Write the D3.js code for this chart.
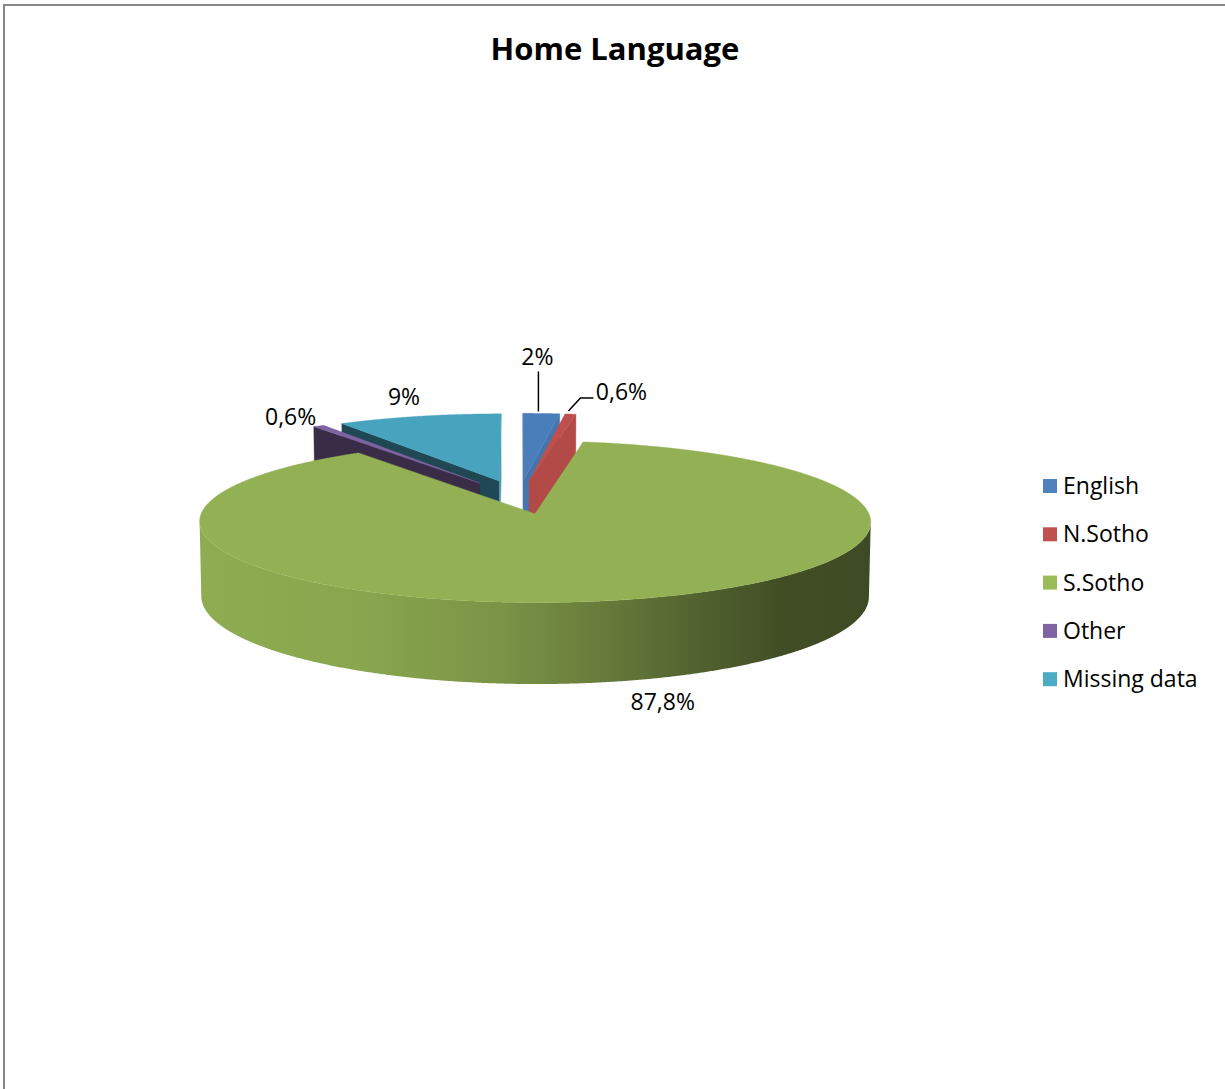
<!DOCTYPE html>
<html>
<head>
<meta charset="utf-8">
<script src="https://cdn.jsdelivr.net/npm/d3@7"></script>
<style>
  body { margin: 0; background: #fff; }
  svg { display: block; }
  text { font-family: "Open Sans", "Noto Sans", sans-serif; }
</style>
</head>
<body>
<script>
// ---- data ----
const categories = ["English", "N.Sotho", "S.Sotho", "Other", "Missing data"];
const shares = [2, 0.6, 87.8, 0.6, 9];            // percent of respondents
const legendColors = ["#4F81BD", "#C0504D", "#9BBB59", "#8064A2", "#4BACC6"];
const topColors = ["#4A7EBB", "#BF4F4C", "#93B154", "#7F63A1", "#47A3BE"];

// ---- layout / style ----
const W = 1225, H = 1089;
const titleText = "Home Language";
// label offsets (px) from the projected rim point at each slice's mid angle
const labelOffsets = [[-4, -57], [51, -23], [46, 20], [-28, -10], [-15, -20]];
// leader polylines, as offsets from that same rim point
const leaders = {
  0: [[-3, -2], [-3, -42]],
  1: [[-2, -3], [10, -16], [23, -16]]
};
// wall shading along screen x: [position, brightness multiplier]
const wallShade = [[0, 0.97], [0.25, 0.93], [0.45, 0.83], [0.6, 0.7], [0.75, 0.55], [0.87, 0.44], [1, 0.42]];

const fmtPct = v => String(v).replace(".", ",") + "%";

const svg = d3.select("body").append("svg")
  .attr("width", W).attr("height", H);

svg.append("rect").attr("width", W).attr("height", H).attr("fill", "#fff");

// chart frame (right and bottom sides fall outside the view)
svg.append("rect")
  .attr("x", 4).attr("y", 5).attr("width", 1400).attr("height", 1400)
  .attr("fill", "none").attr("stroke", "#868686").attr("stroke-width", 2);

svg.append("text")
  .attr("x", 615).attr("y", 60)
  .attr("text-anchor", "middle")
  .attr("font-size", 31).attr("font-weight", 700).attr("fill", "#000")
  .text(titleText);

// ---- 3D pie projection ----
const tilt = Math.asin(0.2303);
const camDist = 10.07;
const scaleX = 327, scaleY = 333;
const ox = 519, oy = 497;
const thickness = 0.225;
const explode = 0.22;
const sinT = Math.sin(tilt), cosT = Math.cos(tilt);
const cam = { x: 0, y: camDist * sinT, z: -camDist * cosT };

function project(p) {
  const v = p.z * sinT + p.y * cosT;
  const w = p.z * cosT - p.y * sinT;
  const f = camDist / (camDist + w);
  return [ox + scaleX * p.x * f, oy - scaleY * v * f];
}
function depth(p) { return p.z * cosT - p.y * sinT; }

const arcs = d3.pie().sort(null).value(d => d).startAngle(0).endAngle(2 * Math.PI)(shares);

const defs = svg.append("defs");
const line = d3.line();

const slices = arcs.map((a, i) => {
  const a0 = a.startAngle, a1 = a.endAngle, m = (a0 + a1) / 2;
  const cx = explode * Math.sin(m), cz = explode * Math.cos(m);
  const rim = (t, y) => ({ x: cx + Math.sin(t), y: y, z: cz + Math.cos(t) });
  const ctr = y => ({ x: cx, y: y, z: cz });
  const faces = [];

  // radial cut faces
  [[a0, -1], [a1, 1]].forEach(([t, s]) => {
    const n = s < 0 ? { x: -Math.cos(t), z: Math.sin(t) } : { x: Math.cos(t), z: -Math.sin(t) };
    const dot = n.x * (cam.x - cx) + n.z * (cam.z - cz);
    if (dot > 0) {
      const col = n.x > 0 ? d3.color(topColors[i]).darker(0.2) : d3.color(topColors[i]).darker(2.3);
      faces.push({ pts: [ctr(0), rim(t, 0), rim(t, -thickness), ctr(-thickness)], fill: col.formatHex() });
    }
  });

  // outer wall, only the parts that face the camera
  const steps = Math.max(4, Math.ceil((a1 - a0) / (Math.PI / 720)));
  const runs = [];
  let run = [];
  for (let k = 0; k <= steps; k++) {
    const t = a0 + (a1 - a0) * k / steps;
    const px = cx + Math.sin(t), pz = cz + Math.cos(t);
    const vis = Math.sin(t) * (cam.x - px) + Math.cos(t) * (cam.z - pz) > 0;
    if (vis) run.push(t);
    else if (run.length) { if (run.length > 1) runs.push(run); run = []; }
  }
  if (run.length > 1) runs.push(run);
  if (runs.length) {
    const gid = "wall" + i;
    const base = d3.rgb(topColors[i]);
    const g = defs.append("linearGradient").attr("id", gid)
      .attr("gradientUnits", "userSpaceOnUse")
      .attr("x1", project({ x: cx - 1, y: 0, z: cz })[0]).attr("x2", project({ x: cx + 1, y: 0, z: cz })[0])
      .attr("y1", 0).attr("y2", 0);
    wallShade.forEach(([o, k]) => {
      g.append("stop").attr("offset", o)
        .attr("stop-color", d3.rgb(base.r * k, base.g * k, base.b * k).formatHex());
    });
    runs.forEach(r => {
      faces.push({
        pts: [...r.map(t => rim(t, 0)), ...r.slice().reverse().map(t => rim(t, -thickness))],
        fill: `url(#${gid})`
      });
    });
  }

  // top face
  const topPts = [ctr(0)];
  for (let k = 0; k <= steps; k++) topPts.push(rim(a0 + (a1 - a0) * k / steps, 0));
  faces.push({ pts: topPts, fill: topColors[i] });

  const sortKey = depth({ x: cx + 0.5 * Math.sin(m), y: 0, z: cz + 0.5 * Math.cos(m) });
  const anchorTop = project(rim(m, 0));
  const anchorBottom = project(rim(m, -thickness));
  return { i, faces, sortKey, m, anchor: Math.cos(m) < 0 ? anchorBottom : anchorTop };
});

// back-to-front painting
const pieG = svg.append("g");
slices.slice().sort((a, b) => b.sortKey - a.sortKey).forEach(s => {
  const g = pieG.append("g");
  s.faces.forEach(f => {
    g.append("path")
      .attr("d", line(f.pts.map(project)) + "Z")
      .attr("fill", f.fill)
      .attr("stroke", f.fill.startsWith("url") ? "none" : f.fill)
      .attr("stroke-width", 0.4);
  });
});

// ---- data labels ----
const labelG = svg.append("g");
slices.forEach(s => {
  const [ax, ay] = s.anchor;
  const [dx, dy] = labelOffsets[s.i];
  if (leaders[s.i]) {
    labelG.append("path")
      .attr("d", line(leaders[s.i].map(([lx, ly]) => [ax + lx, ay + ly])))
      .attr("fill", "none").attr("stroke", "#000").attr("stroke-width", 1.5);
  }
  labelG.append("text")
    .attr("x", ax + dx).attr("y", ay + dy)
    .attr("text-anchor", "middle").attr("dominant-baseline", "central")
    .attr("font-size", 23).attr("fill", "#000")
    .text(fmtPct(shares[s.i]));
});

// ---- legend ----
const legend = svg.append("g").attr("transform", "translate(1043,486)");
const items = legend.selectAll("g").data(categories).join("g")
  .attr("transform", (d, i) => `translate(0,${i * 48.3})`);
items.append("rect").attr("x", 0).attr("y", -7).attr("width", 14).attr("height", 14)
  .attr("fill", (d, i) => legendColors[i]);
items.append("text").attr("x", 20).attr("y", -1)
  .attr("dominant-baseline", "central").attr("font-size", 23).attr("fill", "#000")
  .text(d => d);
</script>
</body>
</html>
